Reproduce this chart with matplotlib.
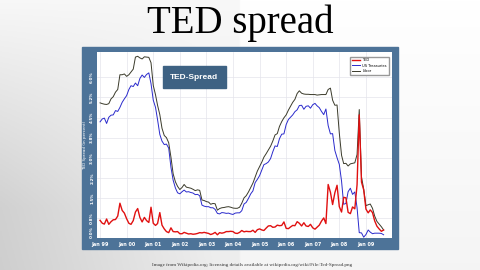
import numpy as np
import pandas as pd
import matplotlib
matplotlib.use("Agg")
import matplotlib.pyplot as plt
from matplotlib.patches import Rectangle

# monthly values, Jan 1999 .. Sep 2009 (percent)
libor = [
    5.05, 5.02, 5.00, 4.99, 5.02, 5.20, 5.28, 5.45, 5.55, 6.10, 6.10, 6.13,  # 1999
    6.04, 6.10, 6.20, 6.31, 6.76, 6.79, 6.73, 6.69, 6.77, 6.76, 6.75, 6.55,  # 2000
    5.70, 5.35, 4.96, 4.61, 4.10, 3.83, 3.75, 3.56, 3.02, 2.40, 2.10, 1.93,  # 2001
    1.81, 1.89, 2.00, 1.90, 1.88, 1.86, 1.82, 1.77, 1.80, 1.78, 1.42, 1.40,  # 2002
    1.36, 1.34, 1.26, 1.29, 1.28, 1.04, 1.10, 1.13, 1.14, 1.16, 1.17, 1.15,  # 2003
    1.12, 1.11, 1.11, 1.15, 1.30, 1.50, 1.58, 1.72, 1.89, 2.05, 2.28, 2.50,  # 2004
    2.67, 2.84, 3.02, 3.15, 3.29, 3.43, 3.62, 3.85, 3.90, 4.17, 4.35, 4.49,  # 2005
    4.60, 4.78, 4.92, 5.07, 5.18, 5.40, 5.50, 5.41, 5.38, 5.37, 5.37, 5.36,  # 2006
    5.36, 5.36, 5.34, 5.35, 5.36, 5.36, 5.36, 5.55, 5.60, 5.15, 4.96, 4.97,  # 2007
    3.92, 3.09, 2.78, 2.79, 2.69, 2.77, 2.79, 2.81, 3.12, 4.80, 2.28, 1.83,  # 2008
    1.21, 1.24, 1.27, 1.11, 0.82, 0.62, 0.52, 0.42, 0.30,                    # 2009
]
tbill = [
    4.34, 4.45, 4.48, 4.28, 4.51, 4.59, 4.60, 4.76, 4.73, 4.88, 5.07, 5.20,
    5.32, 5.55, 5.69, 5.66, 5.79, 5.69, 5.96, 6.09, 6.00, 6.11, 6.17, 5.77,
    5.15, 4.88, 4.42, 3.87, 3.62, 3.49, 3.51, 3.36, 2.64, 2.16, 1.87, 1.69,
    1.65, 1.73, 1.79, 1.72, 1.73, 1.70, 1.68, 1.62, 1.63, 1.58, 1.23, 1.19,
    1.17, 1.17, 1.13, 1.13, 1.07, 0.92, 0.90, 0.95, 0.94, 0.92, 0.93, 0.90,
    0.88, 0.93, 0.94, 0.94, 1.02, 1.27, 1.33, 1.48, 1.65, 1.76, 2.07, 2.19,
    2.33, 2.54, 2.74, 2.78, 2.84, 2.97, 3.22, 3.44, 3.42, 3.71, 3.88, 3.89,
    4.24, 4.43, 4.51, 4.60, 4.72, 4.79, 4.95, 4.96, 4.81, 4.92, 4.94, 4.85,
    4.98, 5.03, 4.94, 4.87, 4.73, 4.61, 4.82, 4.20, 3.89, 3.90, 3.27, 3.00,
    2.75, 2.12, 1.26, 1.29, 1.73, 1.86, 1.63, 1.72, 1.13, 0.20, 0.19, 0.03,
    0.13, 0.30, 0.22, 0.16, 0.18, 0.18, 0.18, 0.17, 0.12,
]
ted = [
    0.66, 0.55, 0.52, 0.71, 0.51, 0.61, 0.68, 0.69, 0.82, 1.30, 1.03, 0.93,
    0.72, 0.55, 0.51, 0.65, 0.97, 1.10, 0.77, 0.60, 0.77, 0.65, 0.58, 1.15,
    0.55, 0.47, 0.54, 0.95, 0.48, 0.34, 0.24, 0.20, 0.38, 0.24, 0.23, 0.24,
    0.16, 0.16, 0.21, 0.18, 0.15, 0.16, 0.14, 0.15, 0.17, 0.20, 0.19, 0.21,
    0.19, 0.17, 0.13, 0.16, 0.21, 0.12, 0.20, 0.18, 0.20, 0.24, 0.24, 0.25,
    0.24, 0.18, 0.17, 0.21, 0.28, 0.23, 0.25, 0.24, 0.24, 0.29, 0.21, 0.31,
    0.34, 0.30, 0.28, 0.37, 0.45, 0.46, 0.40, 0.41, 0.48, 0.46, 0.47, 0.60,
    0.36, 0.35, 0.41, 0.47, 0.46, 0.61, 0.55, 0.45, 0.57, 0.45, 0.43, 0.51,
    0.38, 0.33, 0.40, 0.48, 0.63, 0.75, 0.54, 2.00, 1.71, 1.25, 1.69, 1.97,
    1.17, 0.97, 1.52, 1.50, 0.96, 0.91, 1.16, 1.09, 1.99, 4.60, 2.09, 1.80,
    1.08, 0.94, 1.05, 0.95, 0.64, 0.44, 0.34, 0.25, 0.30,
]
year_labels = ["Jan 99", "Jan 00", "Jan 01", "Jan 02", "Jan 03", "Jan 04",
               "Jan 05", "Jan 06", "Jan 07", "Jan 08", "Jan 09"]
legend_names = ["TED", "US Treasuries", "Libor"]

dates = pd.date_range("1999-01-01", periods=len(libor), freq="MS")
year_ticks = pd.date_range("1999-01-01", periods=len(year_labels), freq="YS")

W, H = 480, 270
fig = plt.figure(figsize=(4.8, 2.7), dpi=100)

# slide background + blue frame, both in a full-figure axes
bg = fig.add_axes([0, 0, 1, 1])
xx = np.linspace(0, 1, 200)
yy = np.linspace(0, 1, 120)
X, Y = np.meshgrid(xx, yy)
shade = 0.97 - 0.12 * np.clip(1 - X / 0.45, 0, 1) * np.clip(Y * 1.3, 0, 1) - 0.04 * Y
shade = np.clip(shade + 0.03 * (X > 0.5), 0, 1)
bg.imshow(np.dstack([shade] * 3), extent=[0, 1, 0, 1], aspect="auto", origin="upper")
bg.add_patch(Rectangle((82 / W, (H - 249) / H), 316 / W, 202 / H, color="#4d7398"))
bg.set_xlim(0, 1)
bg.set_ylim(0, 1)
bg.set_axis_off()

fig.text(0.5, (H - 33) / H, "TED spread", ha="center", va="baseline",
         fontsize=28, family="Liberation Serif", color="black")
fig.text(152 / W, (H - 265) / H,
         "Image from Wikipedia.org; licensing details available at wikipedia.org/wiki/File:Ted-Spread.png",
         ha="left", va="center", fontsize=3.7, family="Liberation Serif", color="#333333")

ax = fig.add_axes([97 / W, (H - 238) / H, 295 / W, 186 / H])
ax.set_facecolor("white")
ax.plot(dates, ted, color="#e01010", lw=1.0, label=legend_names[0], zorder=3)
ax.plot(dates, tbill, color="#2a2acc", lw=0.7, label=legend_names[1], zorder=2)
ax.plot(dates, libor, color="#3a3a2a", lw=0.7, label=legend_names[2], zorder=2)

ax.set_xlim(pd.Timestamp("1998-11-20"), pd.Timestamp("2009-12-25"))
ax.set_ylim(0, 6.95)
ax.set_xticks(year_ticks)
ax.set_xticklabels(year_labels)
yt = np.arange(0, 6.1, 0.75)
ax.set_yticks(yt)
ax.set_yticklabels([f"{v:.1f}%" for v in yt])
ax.tick_params(axis="x", colors="white", labelsize=3.5, length=0, pad=3)
ax.tick_params(axis="y", colors="white", labelsize=3, length=0, pad=2, labelrotation=90)
for lab in ax.get_xticklabels() + ax.get_yticklabels():
    lab.set_fontweight("bold")
for lab in ax.get_yticklabels():
    lab.set_va("center")
ax.get_yticklabels()[0].set_va("bottom")
ax.grid(True, color="#e4e4ec", lw=0.5)
ax.set_axisbelow(True)
for s in ax.spines.values():
    s.set_visible(False)
ax.set_ylabel("TED Spread (in percent)", color="white", fontsize=3, labelpad=2)

ax.text(0.33, 0.865, "TED-Spread", transform=ax.transAxes, ha="center", va="center",
        fontsize=6, fontweight="bold", color="white", family="Liberation Sans",
        bbox=dict(boxstyle="square,pad=0.9", fc="#3e6283", ec="#3e6283"))

ax.legend(loc="upper right", bbox_to_anchor=(0.995, 0.985), fontsize=2.6,
          handlelength=2.2, borderpad=0.5, labelspacing=0.35, frameon=True,
          fancybox=False, edgecolor="#999999", framealpha=1)

fig.savefig("out.png", dpi=100)
